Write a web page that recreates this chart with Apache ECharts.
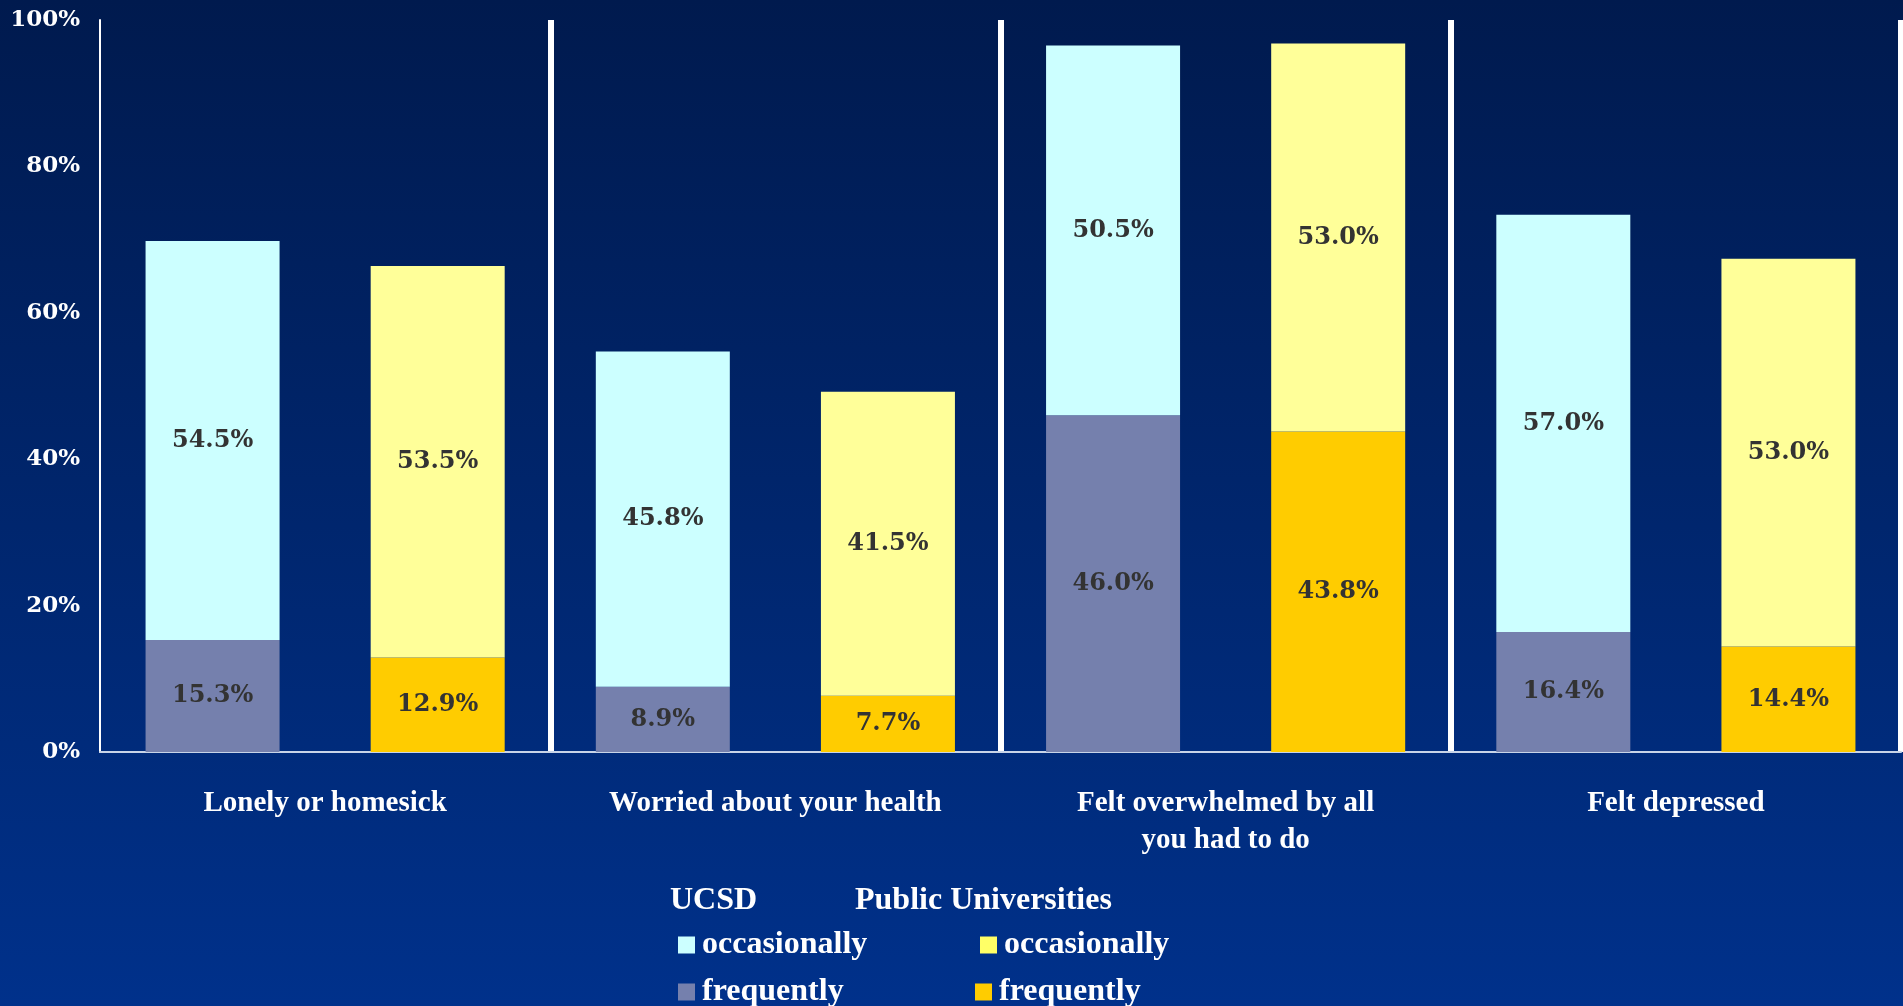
<!DOCTYPE html>
<html>
<head>
<meta charset="utf-8">
<title>Feelings: UCSD vs Public Universities</title>
<script src="https://cdn.jsdelivr.net/npm/echarts@6/dist/echarts.min.js"></script>
<style>
  html, body { margin: 0; padding: 0; }
  #chart { width: 1903px; height: 1006px; }
</style>
</head>
<body>
<div id="chart"></div>
<script>
// data
var categories = ["Lonely or homesick", "Worried about your health", "Felt overwhelmed by all\nyou had to do", "Felt depressed"];
var ucsdFrequently = [15.3, 8.9, 46.0, 16.4];
var ucsdOccasionally = [54.5, 45.8, 50.5, 57.0];
var publicFrequently = [12.9, 7.7, 43.8, 14.4];
var publicOccasionally = [53.5, 41.5, 53.0, 53.0];
var yTicks = [0, 20, 40, 60, 80, 100];

window.addEventListener("load", function () {
  var serif = "'Liberation Serif', 'DejaVu Serif', serif";
  // the numbers in the picture are wide, DejaVu Serif fits them better
  var numSerif = "'DejaVu Serif', 'Liberation Serif', serif";
  var myChart = echarts.init(document.getElementById("chart"));

  // label in the middle of each segment
  function segLabel() {
    return {
      show: true,
      position: "inside",
      color: "#333333",
      fontFamily: numSerif,
      fontWeight: "bold",
      fontSize: 24,
      formatter: function (p) { return p.value.toFixed(1) + "%"; }
    };
  }

  // one legend box per item so they sit in a 2x2 block like the slide
  function legendItem(name, left, top, iconColor) {
    var item = { name: name };
    if (iconColor) item.itemStyle = { color: iconColor };
    return {
      left: left,
      top: top,
      itemWidth: 17,
      itemHeight: 17,
      icon: "rect",
      data: [item],
      formatter: function (n) { return n.split(" ").pop(); },
      textStyle: {
        color: "#ffffff",
        fontFamily: serif,
        fontWeight: "bold",
        fontSize: 32,
        lineHeight: 32,
        padding: [0, 0, 0, 2]
      }
    };
  }

  var option = {
    backgroundColor: new echarts.graphic.LinearGradient(0, 0, 0, 1, [
      { offset: 0, color: "#001a4e" },
      { offset: 1, color: "#00318b" }
    ]),
    animation: false,
    grid: {
      left: 100,
      right: 2,
      top: 20,
      bottom: 254
    },
    legend: [
      legendItem("UCSD occasionally", 673, 924),
      legendItem("UCSD frequently", 673, 971),
      legendItem("Public occasionally", 975, 924, "#ffff66"),
      legendItem("Public frequently", 970, 971)
    ],
    graphic: [
      {
        type: "text",
        left: 670,
        top: 885,
        style: { text: "UCSD", fill: "#ffffff", font: "bold 32px " + serif }
      },
      {
        type: "text",
        left: 855,
        top: 885,
        style: { text: "Public Universities", fill: "#ffffff", font: "bold 32px " + serif }
      }
    ],
    xAxis: {
      type: "category",
      data: categories,
      axisTick: { show: false },
      axisLine: {
        lineStyle: { color: "#c8d4e8", width: 2 }
      },
      axisLabel: {
        color: "#ffffff",
        fontFamily: serif,
        fontWeight: "bold",
        fontSize: 29,
        lineHeight: 37,
        margin: 33,
        interval: 0
      },
      // white separators between the groups
      splitLine: {
        show: true,
        interval: function (index) { return index > 0; },
        lineStyle: { color: "#ffffff", width: 6 }
      }
    },
    yAxis: {
      type: "value",
      min: yTicks[0],
      max: yTicks[yTicks.length - 1],
      interval: yTicks[1] - yTicks[0],
      axisTick: { show: false },
      axisLine: {
        show: true,
        lineStyle: { color: "#ffffff", width: 2 }
      },
      axisLabel: {
        color: "#ffffff",
        fontFamily: numSerif,
        fontWeight: "bold",
        fontSize: 23,
        margin: 20,
        formatter: "{value}%"
      },
      splitLine: { show: false }
    },
    series: [
      {
        name: "UCSD frequently",
        type: "bar",
        stack: "ucsd",
        barWidth: 134,
        color: "#7580ad",
        label: segLabel(),
        data: ucsdFrequently
      },
      {
        name: "UCSD occasionally",
        type: "bar",
        stack: "ucsd",
        barWidth: 134,
        color: "#ccffff",
        label: segLabel(),
        data: ucsdOccasionally
      },
      {
        name: "Public frequently",
        type: "bar",
        stack: "public",
        barWidth: 134,
        color: "#ffcc00",
        label: segLabel(),
        data: publicFrequently
      },
      {
        name: "Public occasionally",
        type: "bar",
        stack: "public",
        barWidth: 134,
        barGap: "68%",
        color: "#ffff99",
        label: segLabel(),
        data: publicOccasionally
      }
    ]
  };

  myChart.setOption(option);
  window.addEventListener("resize", function () {
    myChart.resize();
  });
});
</script>
</body>
</html>
